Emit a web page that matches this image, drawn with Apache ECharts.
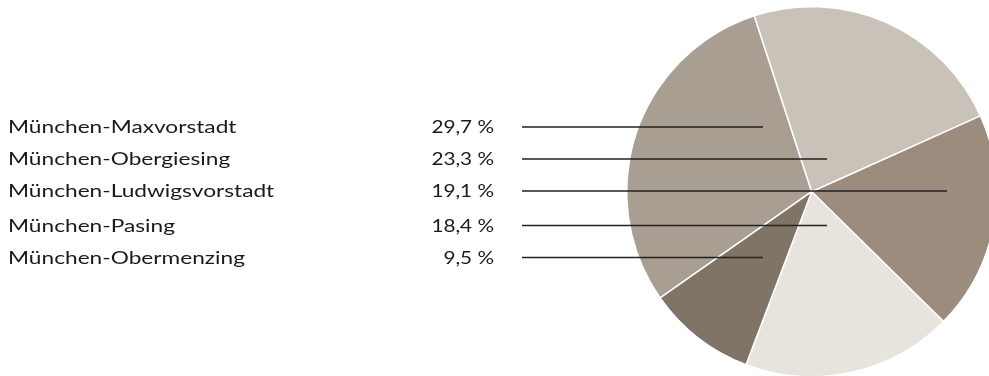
<!DOCTYPE html>
<html>
<head>
<meta charset="utf-8">
<script src="https://cdn.jsdelivr.net/npm/echarts@6/dist/echarts.min.js"></script>
<style>
  html, body { margin: 0; padding: 0; background: #ffffff; }
  #chart { width: 989px; height: 376px; }
</style>
</head>
<body>
<div id="chart"></div>
<script>
// Stadtteile und Anteile
var districts = [
  'München-Maxvorstadt',
  'München-Obergiesing',
  'München-Ludwigsvorstadt',
  'München-Pasing',
  'München-Obermenzing'
];
var shares = [29.7, 23.3, 19.1, 18.4, 9.5];
var sliceColors = ['#a99e92', '#c8c2b8', '#9b8c7d', '#e8e3dd', '#807467'];

// Layout of the label rows and their leader lines
var rowY = [127, 159, 191, 225.5, 257.5];
var lineEndX = [763, 827, 947, 827, 763];
var nameX = 8;
var valueRightX = 494;
var lineStartX = 522;

var fmt = function (v) { return v.toFixed(1).replace('.', ',') + ' %'; };
var font = 'Lato, "Open Sans", sans-serif';
var fontSize = 18;

var graphics = [];
districts.forEach(function (name, i) {
  graphics.push({
    type: 'text', x: nameX, y: rowY[i] + 0.5, scaleX: 1.26, z: 10,
    style: {
      text: name, x: 0, y: 0, fontSize: fontSize, fontFamily: font, fill: '#1a1a1a',
      textAlign: 'left', textVerticalAlign: 'middle'
    }
  });
  graphics.push({
    type: 'text', x: valueRightX, y: rowY[i] + 0.5, scaleX: 1.15, z: 10,
    style: {
      text: fmt(shares[i]), x: 0, y: 0, fontSize: fontSize, fontFamily: font, fill: '#1a1a1a',
      textAlign: 'right', textVerticalAlign: 'middle'
    }
  });
  graphics.push({
    type: 'line', z: 10,
    shape: { x1: lineStartX, y1: rowY[i], x2: lineEndX[i], y2: rowY[i] },
    style: { stroke: '#222222', lineWidth: 1.6 }
  });
});

var chart = echarts.init(document.getElementById('chart'));
chart.setOption({
  animation: false,
  backgroundColor: '#ffffff',
  series: [{
    type: 'pie',
    center: [811.7, 191.7],
    radius: [0, 185],
    startAngle: 215,
    clockwise: true,
    label: { show: false },
    labelLine: { show: false },
    emphasis: { disabled: true },
    itemStyle: { borderColor: '#ffffff', borderWidth: 1.5 },
    data: districts.map(function (name, i) {
      return { name: name, value: shares[i], itemStyle: { color: sliceColors[i] } };
    })
  }],
  graphic: graphics
});
</script>
</body>
</html>
